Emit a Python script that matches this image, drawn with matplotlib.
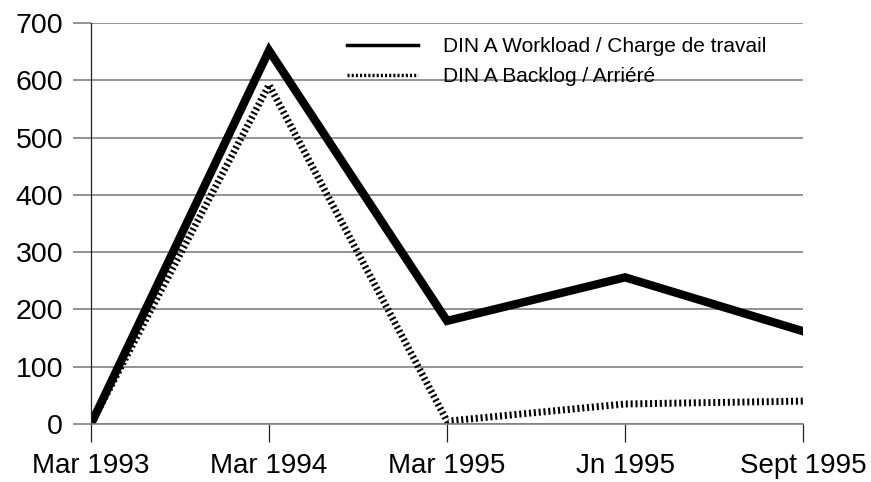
import numpy as np
import matplotlib.pyplot as plt
from matplotlib.lines import Line2D

# data
periods = ["Mar 1993", "Mar 1994", "Mar 1995", "Jn 1995", "Sept 1995"]
workload = [0, 652, 180, 256, 162]
backlog = [0, 592, 5, 35, 40]

plt.rcParams['font.family'] = ['Liberation Sans', 'DejaVu Sans']

fig = plt.figure(figsize=(8.71, 4.82), dpi=100)
ax = fig.add_axes([0.1045, 0.1203, 0.8175, 0.832])

x = np.arange(len(periods))
ax.yaxis.grid(True, color='#808080', linewidth=1.2)
ax.set_axisbelow(True)

ax.plot(x, workload, color='black', linewidth=6, solid_joinstyle='miter')
ax.plot(x, backlog, color='black', linewidth=5, linestyle=(0, (0.3, 0.4)),
        dash_capstyle='butt')

ax.set_xlim(0, len(periods) - 1)
ax.set_ylim(0, 700)
ax.set_xticks(x)
ax.set_xticklabels(periods)
ax.set_yticks(np.arange(0, 701, 100))

ax.spines['top'].set_visible(False)
ax.spines['right'].set_visible(False)
ax.spines['left'].set_color('#202020')
ax.spines['left'].set_linewidth(0.9)
ax.spines['bottom'].set_color('#808080')
ax.spines['bottom'].set_linewidth(1.2)
# y ticks look like the grid lines running past the axis, x ticks are thin and dark
ax.tick_params(axis='y', colors='#808080', length=13, width=1.2,
               labelsize=20.5, labelcolor='black', pad=7)
ax.tick_params(axis='x', colors='#202020', length=13, width=0.9,
               labelsize=20, labelcolor='black', pad=8)

# legend handles are drawn thinner than the plotted lines
handles = [Line2D([], [], color='black', linewidth=2.5),
           Line2D([], [], color='black', linewidth=2.5, linestyle=(0, (0.6, 0.6)),
                  dash_capstyle='butt')]
labels = ['DIN A Workload / Charge de travail', 'DIN A Backlog / Arriéré']
fig.legend(handles, labels, loc='upper left', bbox_to_anchor=(347 / 871, 1 - 37 / 482),
           frameon=False, fontsize=15, handlelength=3.4, handletextpad=1.2,
           labelspacing=0.55, borderpad=0, borderaxespad=0)

fig.savefig('out.png', dpi=100)
